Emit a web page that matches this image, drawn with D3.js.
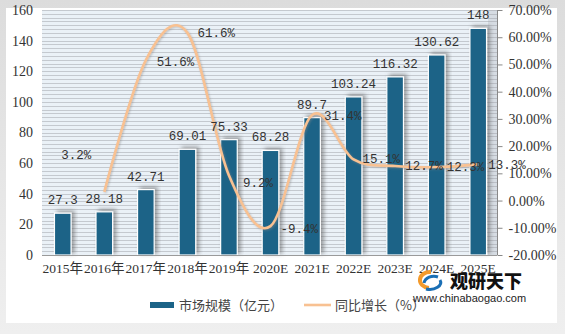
<!DOCTYPE html>
<html><head><meta charset="utf-8">
<script src="https://cdn.jsdelivr.net/npm/d3@7"></script>
<style>
html,body{margin:0;padding:0;background:#fff;}
svg{display:block;}
</style></head>
<body>
<svg id="chart" width="565" height="334"></svg>
<script>
// ---- data ----
const categories = ["2015年","2016年","2017年","2018年","2019年","2020E","2021E","2022E","2023E","2024E","2025E"];
const marketSize = [27.3, 28.18, 42.71, 69.01, 75.33, 68.28, 89.7, 103.24, 116.32, 130.62, 148];
const growth = [null, 3.2, 51.6, 61.6, 9.2, -9.4, 31.4, 15.1, 12.7, 12.3, 13.3];
const leftTicks = [0, 20, 40, 60, 80, 100, 120, 140, 160];
const rightTicks = [-20, -10, 0, 10, 20, 30, 40, 50, 60, 70];
const seriesNames = ["市场规模（亿元）", "同比增长（%）"];
// label nudges for growth labels (dx, dy in px)
const growthLabelNudge = [[0,0],[-43,-37],[11,2],[10,0],[14,7],[10,2],[12,1],[9,-1],[10,0],[10,0],[10,0]];

const svg = d3.select("#chart");
const W = 565, H = 334;
const plot = {l: 42, r: 497, t: 10, b: 255};

const defs = svg.append("defs");
const bg = defs.append("linearGradient").attr("id","frameGrad").attr("x1",0).attr("y1",0).attr("x2",0).attr("y2",1);
bg.append("stop").attr("offset","0%").attr("stop-color","#dcdcdc");
bg.append("stop").attr("offset","100%").attr("stop-color","#efefef");
const f = defs.append("filter").attr("id","shadow").attr("x","-30%").attr("y","-30%").attr("width","170%").attr("height","170%");
f.append("feDropShadow").attr("dx",3).attr("dy",-2).attr("stdDeviation",2).attr("flood-color","#555").attr("flood-opacity",0.55);
const lf = defs.append("filter").attr("id","lshadow").attr("x","-10%").attr("y","-10%").attr("width","120%").attr("height","120%");
lf.append("feDropShadow").attr("dx",1).attr("dy",1).attr("stdDeviation",0.8).attr("flood-color","#888").attr("flood-opacity",0.5);

// frame
svg.append("rect").attr("width",W).attr("height",H).attr("fill","url(#frameGrad)");
svg.append("rect").attr("x",6).attr("y",8).attr("width",551).attr("height",315).attr("fill","#fff");

// scales
const x = d3.scaleBand().domain(categories).range([plot.l, plot.r + 2]).paddingInner(0.6).paddingOuter(0.3);
const yL = d3.scaleLinear().domain([0,160]).range([plot.b, plot.t]);
const yR = d3.scaleLinear().domain([-20,70]).range([plot.b, plot.t]);

// plot background with stripes
svg.append("rect").attr("x",plot.l).attr("y",plot.t).attr("width",plot.r-plot.l).attr("height",plot.b-plot.t).attr("fill","#eaf1f7");
svg.append("g").selectAll("line").data(d3.range(2.5,160.1,2.5)).join("line")
  .attr("x1",plot.l).attr("x2",plot.r)
  .attr("y1",d=>Math.round(yL(d))+0.5).attr("y2",d=>Math.round(yL(d))+0.5)
  .attr("stroke","#c4c9cf").attr("stroke-width",1);
// right inner shade
svg.append("rect").attr("x",plot.r-9).attr("y",plot.t).attr("width",9).attr("height",plot.b-plot.t).attr("fill","#9aa0a6").attr("opacity",0.25);

// bars
svg.append("g").selectAll("rect").data(marketSize).join("rect")
  .attr("x",(d,i)=>x(categories[i])).attr("width",x.bandwidth())
  .attr("y",d=>yL(d)).attr("height",d=>plot.b-yL(d))
  .attr("fill","#1b6387").attr("stroke","#fff").attr("stroke-width",1.2)
  .attr("filter","url(#shadow)");

// bottom axis
const xAxis = svg.append("g").attr("transform",`translate(0,${plot.b})`)
  .call(d3.axisBottom(x).tickSize(0).tickPadding(8));
xAxis.select(".domain").attr("stroke","#9a9a9a").attr("d",`M${plot.l},0.5H${plot.r}`);
xAxis.selectAll("text").attr("font-family","'Liberation Serif','Noto Sans CJK SC',serif").attr("font-size",13.5).attr("fill","#333");

// left axis
const yAxisL = svg.append("g").attr("transform",`translate(${plot.l},0)`)
  .call(d3.axisLeft(yL).tickValues(leftTicks).tickSize(0).tickPadding(9));
yAxisL.select(".domain").remove();
yAxisL.selectAll("text").attr("font-family","'Liberation Serif',serif").attr("font-size",14).attr("fill","#333");

// right axis
const yAxisR = svg.append("g").attr("transform",`translate(${plot.r+0.5},0)`)
  .call(d3.axisRight(yR).tickValues(rightTicks).tickSize(5).tickPadding(6).tickFormat(d=>d.toFixed(2)+"%"));
yAxisR.select(".domain").attr("stroke","#888").attr("d",`M0,${plot.t}V${plot.b}`);
yAxisR.selectAll(".tick line").attr("stroke","#888");
yAxisR.selectAll("text").attr("font-family","'Liberation Serif',serif").attr("font-size",14).attr("fill","#333");

// growth line
const pts = growth.map((g,i)=>({g,i})).filter(d=>d.g!==null);
const line = d3.line().x(d=>x(categories[d.i])+x.bandwidth()/2).y(d=>yR(d.g)).curve(d3.curveCardinal.tension(0));
svg.append("path").datum(pts).attr("d",line).attr("fill","none")
  .attr("stroke","#f8c192").attr("stroke-width",2.6).attr("filter","url(#lshadow)");

// bar labels
const labelFont = "'Liberation Mono','DejaVu Sans Mono',monospace";
svg.append("g").selectAll("text").data(marketSize).join("text")
  .attr("x",(d,i)=>x(categories[i])+x.bandwidth()/2).attr("y",d=>yL(d)-9)
  .attr("text-anchor","middle").attr("font-family",labelFont).attr("font-size",12.5).attr("fill","#333")
  .text(d=>String(d));

// growth labels
svg.append("g").selectAll("text").data(pts).join("text")
  .attr("x",d=>x(categories[d.i])+x.bandwidth()/2+growthLabelNudge[d.i][0])
  .attr("y",d=>yR(d.g)+growthLabelNudge[d.i][1]).attr("dy","0.35em")
  .attr("font-family",labelFont).attr("font-size",12.5).attr("fill","#333")
  .text(d=>d.g.toFixed(1)+"%");

// legend
const lg = svg.append("g").attr("font-family","'Noto Sans CJK SC',sans-serif").attr("font-size",13).attr("fill","#444");
lg.append("rect").attr("x",150).attr("y",302).attr("width",24).attr("height",6).attr("fill","#1b6387");
lg.append("text").attr("x",179).attr("y",305).attr("dy","0.35em").text(seriesNames[0]);
lg.append("line").attr("x1",304).attr("x2",331).attr("y1",305).attr("y2",305).attr("stroke","#f8c192").attr("stroke-width",2.6);
lg.append("text").attr("x",335).attr("y",305).attr("dy","0.35em").text(seriesNames[1]);

// watermark
const wm = svg.append("g");
wm.append("path").attr("d","M431,272 a10,8 0 1,0 -2,16").attr("fill","none").attr("stroke","#f39a2b").attr("stroke-width",4);
wm.append("path").attr("d","M424,283 a10,8 0 0,1 14,-6 M426,289 a11,7 0 0,0 14,-9").attr("fill","none").attr("stroke","#1a6fb5").attr("stroke-width",3);
wm.append("text").attr("x",450).attr("y",288).attr("font-family","'Noto Sans CJK SC',sans-serif").attr("font-weight",900).attr("font-size",18).attr("fill","#111").text("观研天下");
wm.append("text").attr("x",413).attr("y",302).attr("font-family","'Liberation Sans',Arial,sans-serif").attr("font-size",11).attr("fill","#222").text("www.chinabaogao.com");
</script>
</body></html>
